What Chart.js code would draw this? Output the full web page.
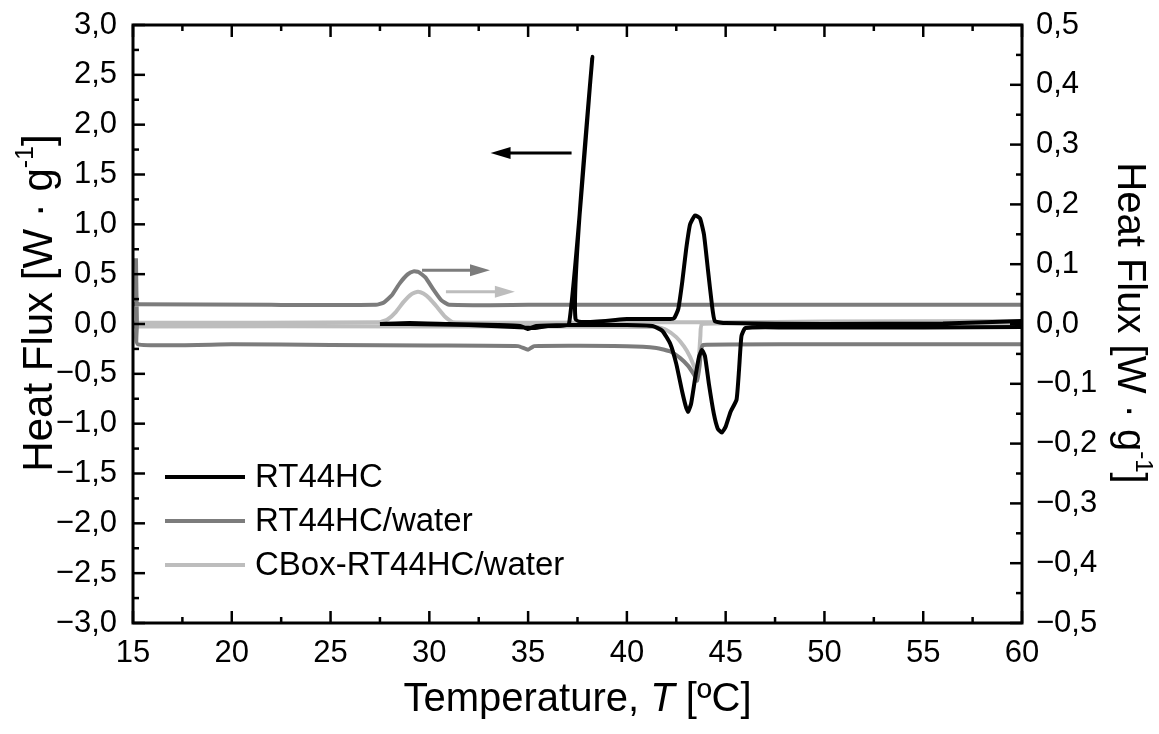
<!DOCTYPE html>
<html>
<head>
<meta charset="utf-8">
<script src="https://cdn.jsdelivr.net/npm/chart.js@4.4.1/dist/chart.umd.min.js"></script>
<style>
  html, body { margin: 0; padding: 0; background: #fff; }
  #wrap { width: 1159px; height: 734px; }
</style>
</head>
<body>
<div id="wrap"><canvas id="dsc"></canvas></div>
<script>
// RT44HC (left axis), heating branch then cooling branch, null = break
const rtTemp = [27.5, 29.0, 31.0, 33.5, 34.6, 35.0, 35.4, 37.0, 40.0, 41.3, 41.8, 42.2, 42.5, 42.8, 43.0, 43.1,
  43.25, 43.45, 43.65, 43.8, 43.95, 44.15, 44.4, 44.6, 44.8, 45.0, 45.25, 45.55, 45.68, 45.8, 46.0, 48.0, 55.0, 60.0,
  60.0,
  60.0, 58.5, 56.0, 50.0, 45.0, 44.45, 44.3, 44.1, 43.9, 43.7, 43.45, 43.2, 43.0, 42.8, 42.6, 42.4, 42.2, 40.0,
  37.4, 38.25, 37.07, 36.0, 35.3, 34.3, 32.0, 29.0, 27.5];
const rtFlux = [0.0, 0.01, 0.0, -0.01, -0.02, -0.05, -0.02, -0.01, -0.01, -0.02, -0.07, -0.2, -0.4, -0.68, -0.84, -0.88,
  -0.8, -0.55, -0.33, -0.26, -0.32, -0.6, -0.9, -1.05, -1.09, -1.03, -0.88, -0.76, -0.45, -0.12, -0.04, -0.035, -0.035, -0.03,
  null,
  0.03, 0.02, 0.005, 0.0, 0.01, 0.03, 0.2, 0.55, 0.9, 1.06, 1.09, 1.0, 0.75, 0.42, 0.15, 0.06, 0.05, 0.05,
  0.05, 2.68, 0.0, -0.02, -0.04, -0.03, -0.01, 0.0, 0.0];

// RT44HC/water (right axis)
const waterTemp = [15.15, 15.2, 15.25, 20, 25, 30, 34.5, 35.0, 35.3, 40, 41.5, 42.2, 42.7, 43.1, 43.4, 43.55, 43.68,
  43.75, 43.85, 50, 60,
  60,
  60, 45, 35, 31, 30.6, 30.2, 29.8, 29.45, 29.2, 28.9, 28.5, 28.1, 27.7, 27.3, 22, 15];
const waterFlux = [0.11, 0.0, -0.034, -0.034, -0.035, -0.036, -0.037, -0.043, -0.037, -0.037, -0.04, -0.046, -0.057,
  -0.07, -0.085, -0.095, -0.07, -0.045, -0.035, -0.034, -0.034,
  null,
  0.032, 0.032, 0.032, 0.032, 0.04, 0.058, 0.078, 0.087, 0.088, 0.083, 0.068, 0.048, 0.036, 0.032, 0.032, 0.033];

// CBox-RT44HC/water (right axis)
const cboxTemp = [15, 30, 41.5, 42.0, 42.5, 42.9, 43.2, 43.45, 43.55, 43.65, 43.72, 43.8, 50, 60,
  60,
  60, 50, 45, 42, 35, 31.2, 30.8, 30.4, 30.0, 29.7, 29.42, 29.1, 28.7, 28.3, 27.9, 27.5, 15];
const cboxFlux = [-0.004, -0.004, -0.005, -0.01, -0.022, -0.038, -0.055, -0.075, -0.082, -0.055, -0.02, 0.0, 0.0, 0.0,
  null,
  0.005, 0.004, 0.003, 0.003, 0.002, 0.003, 0.012, 0.028, 0.043, 0.051, 0.054, 0.05, 0.037, 0.02, 0.008, 0.003, 0.002];

// direction arrows: [x from, x to, y, axis]
const arrows = [
  [37.2, 33.1, 1.715, "y"],
  [29.63, 33.07, 0.09, "y2"],
  [30.84, 34.33, 0.054, "y2"],
];

const font = "'Liberation Sans', Arial, sans-serif";
const pts = (xs, ys) => xs.map((x, i) => ({ x: x, y: ys[i] }));
const comma = (v) => {
  const r = Math.round(v * 10) / 10;
  return (r === 0 ? 0 : r).toFixed(1).replace(".", ",").replace("-", "\u2212");
};

function drawTicks(scale, from, to, step, isMajor, draw) {
  for (let v = from; v <= to + 1e-9; v += step) {
    draw(scale.getPixelForValue(v), isMajor(v) ? 12 : 6);
  }
}

const framePlugin = {
  id: "frame",
  afterDatasetsDraw(chart) {
    const { ctx, chartArea: a, scales } = chart;
    ctx.save();
    ctx.strokeStyle = "#000";
    ctx.fillStyle = "#000";
    ctx.lineWidth = 3;
    ctx.strokeRect(a.left, a.top, a.right - a.left, a.bottom - a.top);

    const line = (x1, y1, x2, y2) => {
      ctx.beginPath();
      ctx.moveTo(x1, y1);
      ctx.lineTo(x2, y2);
      ctx.stroke();
    };
    const multiple = (v, m) => Math.abs(v / m - Math.round(v / m)) < 1e-6;
    ctx.lineWidth = 2.5;
    drawTicks(scales.x, 15, 60, 2.5, (v) => multiple(v, 5), (p, l) => {
      line(p, a.bottom, p, a.bottom - l);
      line(p, a.top, p, a.top + l);
    });
    drawTicks(scales.y, -3, 3, 0.25, (v) => multiple(v, 0.5), (p, l) => line(a.left, p, a.left + l, p));
    drawTicks(scales.y2, -0.5, 0.5, 0.05, (v) => multiple(v, 0.1), (p, l) => line(a.right, p, a.right - l, p));

    // arrows
    const colors = chart.data.datasets.map((d) => d.borderColor);
    arrows.forEach((ar, i) => {
      const x1 = scales.x.getPixelForValue(ar[0]);
      const x2 = scales.x.getPixelForValue(ar[1]);
      const y = scales[ar[3]].getPixelForValue(ar[2]);
      const dir = Math.sign(x2 - x1);
      ctx.strokeStyle = colors[i];
      ctx.fillStyle = colors[i];
      ctx.lineWidth = 3;
      line(x1, y, x2 - dir * 15, y);
      ctx.beginPath();
      ctx.moveTo(x2, y);
      ctx.lineTo(x2 - dir * 20, y - 6);
      ctx.lineTo(x2 - dir * 20, y + 6);
      ctx.closePath();
      ctx.fill();
    });

    // legend
    ctx.font = "33px " + font;
    ctx.textBaseline = "middle";
    ctx.textAlign = "left";
    chart.data.datasets.forEach((d, i) => {
      const y = a.top + 452 + i * 44;
      ctx.strokeStyle = d.borderColor;
      ctx.lineWidth = 4;
      line(a.left + 32, y, a.left + 112, y);
      ctx.fillStyle = "#000";
      ctx.fillText(d.label, a.left + 122, y + 1);
    });

    // axis titles
    ctx.fillStyle = "#000";
    ctx.textBaseline = "alphabetic";
    const fluxTitle = (cx, cy, rot, size) => {
      ctx.save();
      ctx.translate(cx, cy);
      ctx.rotate(rot);
      const big = size + "px " + font;
      const small = Math.round(size * 0.6) + "px " + font;
      const parts = [["Heat Flux [W \u00b7 g", big, 0], ["-1", small, -size * 0.45], ["]", big, 0]];
      let w = 0;
      parts.forEach((p) => { ctx.font = p[1]; w += ctx.measureText(p[0]).width; });
      let x = -w / 2;
      parts.forEach((p) => {
        ctx.font = p[1];
        ctx.fillText(p[0], x, p[2]);
        x += ctx.measureText(p[0]).width;
      });
      ctx.restore();
    };
    fluxTitle(52, 303, -Math.PI / 2, 42);
    fluxTitle(1118, 323, Math.PI / 2, 40);

    const tParts = [["Temperature, ", "40px " + font], ["T", "italic 40px " + font], [" [\u00baC]", "40px " + font]];
    let tw = 0;
    tParts.forEach((p) => { ctx.font = p[1]; tw += ctx.measureText(p[0]).width; });
    let tx = (a.left + a.right) / 2 - tw / 2;
    tParts.forEach((p) => {
      ctx.font = p[1];
      ctx.fillText(p[0], tx, 711);
      tx += ctx.measureText(p[0]).width;
    });
    ctx.restore();
  },
};

const tickFont = { family: font, size: 31 };
const noPad = (s) => { s.paddingTop = 0; s.paddingBottom = 0; };

new Chart(document.getElementById("dsc"), {
  type: "line",
  data: {
    datasets: [
      {
        label: "RT44HC",
        data: pts(rtTemp, rtFlux),
        yAxisID: "y",
        borderColor: "#000000",
        borderWidth: 4,
        pointRadius: 0,
        tension: 0.15,
      },
      {
        label: "RT44HC/water",
        data: pts(waterTemp, waterFlux),
        yAxisID: "y2",
        borderColor: "#7c7c7c",
        borderWidth: 4,
        pointRadius: 0,
        tension: 0.15,
      },
      {
        label: "CBox-RT44HC/water",
        data: pts(cboxTemp, cboxFlux),
        yAxisID: "y2",
        borderColor: "#bdbdbd",
        borderWidth: 4,
        pointRadius: 0,
        tension: 0.15,
      },
    ],
  },
  options: {
    responsive: true,
    maintainAspectRatio: false,
    animation: false,
    layout: { padding: { top: 25, left: 0, right: 0, bottom: 0 } },
    plugins: { legend: { display: false }, tooltip: { enabled: false } },
    scales: {
      x: {
        type: "linear",
        min: 15,
        max: 60,
        grid: { display: false, drawTicks: false },
        border: { display: false },
        ticks: { stepSize: 5, padding: 12, color: "#000", font: tickFont, maxRotation: 0 },
        afterFit: (s) => { s.height = 111; },
      },
      y: {
        position: "left",
        min: -3,
        max: 3,
        grid: { display: false, drawTicks: false },
        border: { display: false },
        ticks: { stepSize: 0.5, padding: 16, color: "#000", font: tickFont, callback: comma },
        afterFit: (s) => { s.width = 133; noPad(s); },
      },
      y2: {
        position: "right",
        min: -0.5,
        max: 0.5,
        grid: { display: false, drawTicks: false },
        border: { display: false },
        ticks: { stepSize: 0.1, padding: 14, color: "#000", font: tickFont, callback: comma },
        afterFit: (s) => { s.width = 137; noPad(s); },
      },
    },
  },
  plugins: [framePlugin],
});
</script>
</body>
</html>
